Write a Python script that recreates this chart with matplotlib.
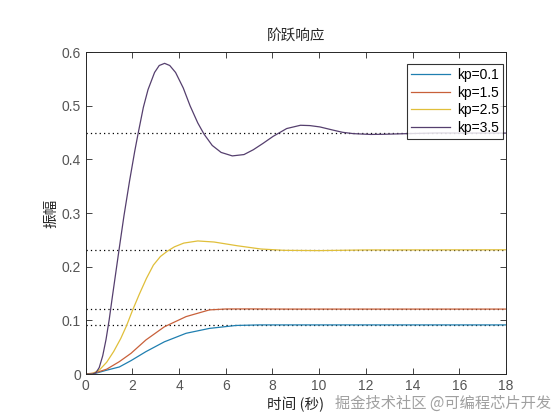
import matplotlib
matplotlib.use('Agg')
import matplotlib.pyplot as plt

plt.rcParams['font.family'] = ['Liberation Sans', 'Noto Sans CJK SC', 'DejaVu Sans']

# step responses
t_01 = [0, 0.4, 0.87, 1.44, 1.94, 2.58, 3.37, 4.30, 5.30, 6.44, 7.44, 9, 18]
y_01 = [0, 0.001, 0.0068, 0.0131, 0.0249, 0.0417, 0.060, 0.0759, 0.085, 0.0905, 0.0915, 0.0915, 0.0915]

t_15 = [0, 0.4, 0.9, 1.44, 1.94, 2.58, 3.37, 4.30, 5.30, 6.01, 7, 8.58, 18]
y_15 = [0, 0.002, 0.009, 0.023, 0.0385, 0.0635, 0.088, 0.107, 0.1195, 0.1212, 0.1213, 0.121, 0.121]

t_25 = [0, 0.3, 0.6, 0.9, 1.2, 1.5, 1.75, 2.0, 2.3, 2.6, 2.9, 3.2, 3.5, 3.8, 4.2,
        4.8, 5.5, 6.5, 7.5, 8.5, 10, 12, 18]
y_25 = [0, 0.001, 0.008, 0.022, 0.042, 0.066, 0.090, 0.118, 0.149, 0.178, 0.203, 0.219,
        0.229, 0.237, 0.244, 0.248, 0.246, 0.239, 0.233, 0.2305, 0.230, 0.2312, 0.2315]

t_35 = [0, 0.3, 0.45, 0.58, 0.73, 0.87, 1.01, 1.13, 1.28, 1.43, 1.64, 1.88, 2.10, 2.24, 2.47,
        2.67, 2.95, 3.15, 3.38, 3.6, 3.85, 4.18, 4.47, 4.8, 5.07, 5.42, 5.8, 6.28, 6.78,
        7.18, 7.6, 8.03, 8.61, 9.2, 9.6, 10.03, 10.6, 11.0, 11.46, 12.2, 12.75, 13.75, 15, 18]
y_35 = [0, 0, 0.003, 0.012, 0.034, 0.064, 0.102, 0.140, 0.186, 0.232, 0.295, 0.360, 0.415, 0.447,
        0.497, 0.530, 0.562, 0.575, 0.579, 0.575, 0.562, 0.533, 0.500, 0.468, 0.447, 0.426,
        0.413, 0.4065, 0.409, 0.418, 0.430, 0.443, 0.4575, 0.4636, 0.463, 0.4605, 0.4545,
        0.4505, 0.448, 0.4465, 0.4468, 0.448, 0.4492, 0.449]

final_vals = [0.0915, 0.1207, 0.2315, 0.4494]
labels = ['kp=0.1', 'kp=1.5', 'kp=2.5', 'kp=3.5']
colors = ['#1f7fb0', '#c8603a', '#e0bf3a', '#553f6e']

fig = plt.figure(figsize=(5.6, 4.2), dpi=100)
ax = fig.add_axes([0.153, 0.1095, 0.7505, 0.7665])

series = [(t_01, y_01), (t_15, y_15), (t_25, y_25), (t_35, y_35)]
for (t, y), lab, c in zip(series, labels, colors):
    ax.plot(t, y, color=c, lw=0.9, label=lab)

for v in final_vals:
    ax.axhline(v, color='black', ls=(0, (1, 2.5)), lw=0.9, zorder=1)

ax.set_xlim(0, 18)
ax.set_ylim(0, 0.6)
ax.set_xticks(range(0, 19, 2))
ax.set_yticks([0, 0.1, 0.2, 0.3, 0.4, 0.5, 0.6])
ax.set_yticklabels(['0', '0.1', '0.2', '0.3', '0.4', '0.5', '0.6'])
ax.tick_params(direction='in', top=True, right=True, length=4, width=0.6,
               colors='#262626', labelcolor='#555555', labelsize=10)
for s in ax.spines.values():
    s.set_color('#262626')
    s.set_linewidth(0.7)

ax.set_title('阶跃响应', family=['Noto Sans CJK SC'], fontsize=10.5, color='#262626', pad=9)
ax.set_xlabel('时间 (秒)', family=['Noto Sans CJK SC', 'DejaVu Sans'], fontsize=10.5,
              color='#262626', labelpad=3)
ax.set_ylabel('振幅', family=['Noto Sans CJK SC'], fontsize=10.5, color='#262626', labelpad=2)

leg = ax.legend(loc='upper right', bbox_to_anchor=(0.993, 0.963), borderaxespad=0,
                fontsize=10, frameon=True, fancybox=False, borderpad=0.3,
                labelspacing=0.25, handlelength=2.8, handletextpad=0.5)
leg.get_frame().set_edgecolor('black')
leg.get_frame().set_linewidth(0.8)

# watermark from the source image
fig.text(0.985, 0.02, '掘金技术社区 @可编程芯片开发', ha='right', va='bottom',
         family=['Noto Sans CJK SC'], fontsize=11, color='#888888', alpha=0.8)

fig.savefig('out.png', dpi=100, facecolor='white')
